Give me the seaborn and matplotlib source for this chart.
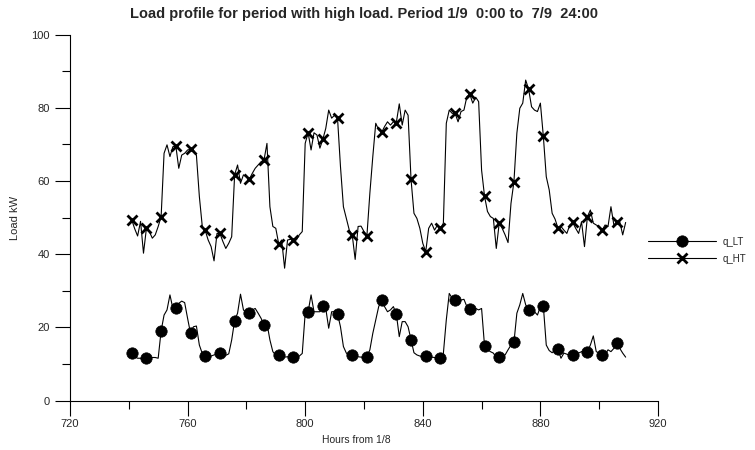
import numpy as np
import pandas as pd
import matplotlib
matplotlib.use("Agg")
import matplotlib.pyplot as plt
from matplotlib.ticker import MultipleLocator
import seaborn as sns

hours_start = 741
hours_end = 909

q_HT = [
    49.4, 47.0, 45.0, 49.0, 40.3, 47.1, 46.2, 44.4, 45.3, 47.6,
    50.3, 67.6, 69.9, 66.7, 69.4, 69.6, 63.5, 67.1, 67.6, 68.5,
    68.7, 68.5, 67.1, 55.8, 47.6, 46.5, 43.9, 42.1, 38.2, 45.7,
    45.7, 43.5, 41.6, 43.0, 44.8, 61.7, 64.4, 59.4, 61.7, 61.2,
    60.5, 62.1, 63.5, 64.4, 65.3, 65.8, 70.3, 53.0, 47.6, 47.1,
    42.8, 43.9, 36.2, 43.9, 44.1, 43.9, 43.9, 45.3, 46.2, 70.3,
    73.2, 68.5, 73.2, 72.6, 69.0, 71.4, 74.4, 79.4, 77.2, 78.0,
    77.2, 64.0, 53.0, 49.8, 46.6, 45.3, 38.6, 47.6, 47.7, 46.2,
    45.1, 56.7, 66.7, 75.8, 74.0, 73.3, 74.9, 76.2, 75.3, 76.2,
    76.0, 81.1, 75.3, 79.4, 78.0, 60.5, 51.2, 49.8, 47.1, 43.0,
    40.7, 47.1, 48.5, 46.6, 48.0, 47.1, 48.5, 75.8, 79.4, 78.5,
    78.5, 76.2, 79.0, 79.4, 83.1, 83.7, 81.3, 82.9, 81.7, 63.0,
    55.9, 51.7, 50.3, 49.8, 41.6, 48.5, 47.1, 45.3, 43.2, 53.9,
    59.8, 73.1, 79.9, 81.3, 87.6, 85.1, 80.3, 79.4, 79.0, 81.3,
    72.3, 61.2, 57.6, 51.2, 49.6, 47.1, 47.6, 46.6, 45.7, 48.0,
    48.7, 47.1, 45.7, 48.9, 42.1, 50.3, 52.1, 48.5, 48.0, 47.6,
    46.6, 48.0, 47.6, 53.0, 48.0, 48.7, 48.9, 45.3, 48.7,
]

q_LT = [
    12.9, 12.0, 11.6, 11.6, 11.3, 11.6, 11.8, 11.8, 11.8, 11.6,
    19.1, 23.4, 24.8, 28.9, 25.2, 25.4, 26.6, 27.2, 26.8, 22.5,
    18.4, 20.2, 20.4, 15.2, 12.9, 12.2, 12.0, 12.2, 12.5, 12.7,
    12.9, 12.8, 12.4, 12.8, 16.6, 21.9, 23.9, 29.1, 24.8, 23.9,
    23.9, 24.8, 25.2, 23.9, 22.5, 20.7, 21.1, 16.6, 13.4, 12.4,
    12.4, 12.0, 11.9, 12.0, 12.0, 12.0, 12.0, 12.2, 12.9, 23.9,
    24.3, 28.9, 24.3, 24.3, 24.3, 26.0, 25.2, 19.8, 24.3, 24.3,
    23.7, 20.2, 14.8, 13.0, 12.4, 12.4, 12.0, 12.0, 11.9, 11.9,
    11.9, 13.9, 18.4, 22.1, 25.7, 27.5, 25.7, 24.3, 24.8, 25.7,
    23.7, 17.5, 21.6, 21.6, 20.2, 16.6, 13.1, 12.5, 12.2, 12.0,
    12.2, 12.0, 11.9, 11.8, 11.6, 11.6, 12.9, 22.1, 29.3, 28.0,
    27.5, 26.8, 27.5, 27.7, 25.7, 25.1, 23.9, 25.2, 24.8, 25.2,
    15.0, 13.9, 13.4, 13.0, 11.8, 11.8, 12.0, 12.5, 13.9, 15.2,
    15.9, 23.9, 26.2, 29.3, 26.2, 24.8, 24.8, 24.3, 23.4, 25.7,
    25.9, 15.2, 13.7, 13.1, 13.9, 14.0, 11.6, 13.0, 12.7, 12.4,
    12.4, 13.0, 13.0, 13.4, 13.6, 13.4, 15.2, 17.7, 13.4, 13.0,
    12.5, 12.5, 13.9, 13.4, 14.3, 15.7, 14.3, 13.0, 11.9,
]

title = "Load profile for period with high load. Period 1/9  0:00 to  7/9  24:00"
x_label = "Hours from 1/8"
y_label = "Load kW"
series_names = ["q_LT", "q_HT"]

hours = np.arange(hours_start, hours_end + 1)
df = pd.DataFrame({"hour": hours, "q_LT": q_LT, "q_HT": q_HT})

sns.set_style("ticks")
plt.rcParams["font.family"] = ["Liberation Sans", "DejaVu Sans"]

fig = plt.figure(figsize=(7.55, 4.5), dpi=100)
ax = fig.add_axes([0.0927, 0.1096, 0.7788, 0.8133])

sns.lineplot(data=df, x="hour", y="q_LT", ax=ax, color="black", lw=0.8,
             marker="o", markersize=8.2, markevery=5, markeredgecolor="black",
             markerfacecolor="black", markeredgewidth=0.5, label=series_names[0])
sns.lineplot(data=df, x="hour", y="q_HT", ax=ax, color="black", lw=0.8,
             marker="x", markersize=7.5, markeredgewidth=2.0, markevery=5,
             markeredgecolor="black", markerfacecolor="black",
             label=series_names[1])

ax.set_xlim(720, 920)
ax.set_ylim(0, 100)
ax.xaxis.set_major_locator(MultipleLocator(40))
ax.xaxis.set_minor_locator(MultipleLocator(20))
ax.yaxis.set_major_locator(MultipleLocator(20))
ax.yaxis.set_minor_locator(MultipleLocator(10))
ax.tick_params(which="major", length=10.5, width=0.8, labelsize=8, color="black", direction="out")
ax.tick_params(which="minor", length=5.5, width=0.8, color="black", direction="out")
ax.tick_params(axis="y", pad=4)
ax.tick_params(axis="x", pad=3)
for side in ["top", "right"]:
    ax.spines[side].set_visible(False)
for side in ["left", "bottom"]:
    ax.spines[side].set_color("black")
    ax.spines[side].set_linewidth(0.8)

ax.set_xlabel(x_label, fontsize=7.5)
ax.set_ylabel(y_label, fontsize=8)
ax.xaxis.set_label_coords(0.487, -0.095)
ax.yaxis.set_label_coords(-0.085, 0.5)
ax.set_title(title, fontsize=10.5, fontweight="bold", pad=0, y=1.045)

handles, labels = ax.get_legend_handles_labels()
ax.legend_.remove()
fig.legend(handles, labels, loc="center left", bbox_to_anchor=(0.858, 0.444),
           frameon=False, fontsize=7, handlelength=7.0, handletextpad=0.7,
           labelspacing=0.75, borderpad=0, borderaxespad=0)

fig.savefig("out.png", dpi=100)
